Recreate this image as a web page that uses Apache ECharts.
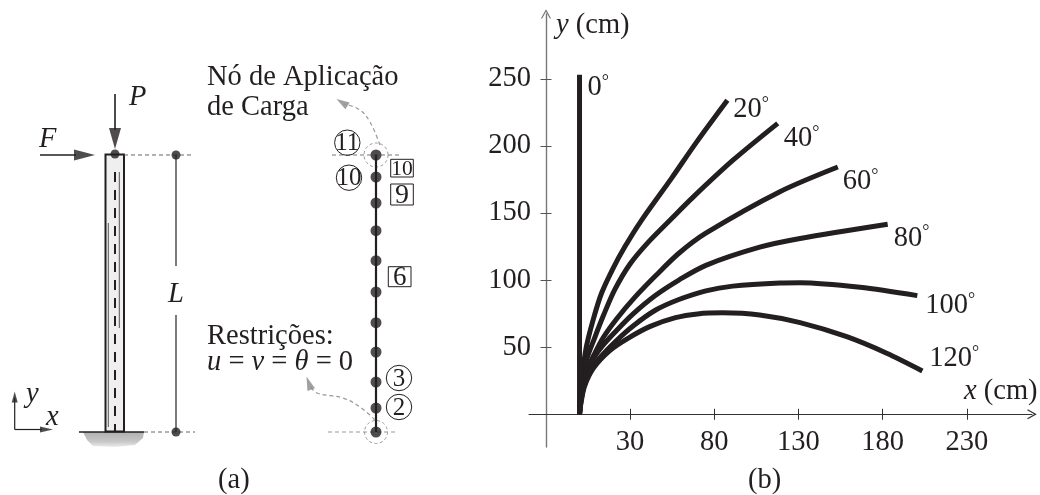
<!DOCTYPE html>
<html><head><meta charset="utf-8">
<style>html,body{margin:0;padding:0;background:#fff}#c{width:1040px;height:495px}</style>
<script src="https://cdn.jsdelivr.net/npm/echarts@6/dist/echarts.min.js"></script>
</head><body><div id="c"></div>
<script>
// ---- panel (b) data: [x cm, y cm] ----
const angle0 = [[0,0],[0,253]];
const angle20 = [[0,0],[0.4,12],[1.5,28],[4,50],[8,70],[13,90],[20,109],[27,125],[36.5,144],[54.7,176],[69.6,203],[87.8,234]];
const angle40 = [[0,0],[0.5,10],[1.8,25],[4,40],[9,57],[14,73],[21,93],[30,112],[41,128.5],[54,145],[67.6,162],[91.3,189.5],[117.7,216.8]];
const angle60 = [[0,0],[0.6,10],[2,22],[4.5,33],[8.5,44],[14,57],[22,71],[32,86],[45,103],[59,120],[75,135],[119,165.9],[153.4,184.3]];
const angle80 = [[0,0],[0.6,9],[2.2,22],[5,33],[9.5,44],[15,53],[22,62.5],[32,75],[45,88.5],[59,100],[75,111],[107,124.5],[131,131],[183,141.6]];
const angle100 = [[0,0],[0.7,8],[2.5,20],[6,31],[12,42],[22,55],[32,66],[45,77.5],[59,85.5],[75,92],[91,95.5],[119,97.8],[131,98],[166.6,94.6],[200.6,88.4]];
const angle120 = [[0,0],[0.8,8],[3,21],[8.3,34.5],[18,47.5],[29,56.8],[42,65.5],[57,72],[70,74.8],[85,75.6],[107,74],[131,68.3],[158.7,57.8],[182.4,45.5],[203.6,32.3]];
const xTicks = [30,80,130,180,230];
const yTicks = [50,100,150,200,250];
const curves = [angle0,angle20,angle40,angle60,angle80,angle100,angle120];
const angleNames = ['0','20','40','60','80','100','120'];
const endOffsets = [[8,13],[6,9],[6,15],[5,15],[6,14],[8,10],[7,-12]];

// ---- panel (a) data: drawing units of the hidden schematic axes ----
const nodeX = 376;
const nodeY = [432,408,382,352,322.7,292,260.7,230.7,203,177,155];
const circled = [['11',347.3,142.7],['10',349,177.7],['3',399,378],['2',399,407]];
const boxed = [['10',390.7,159.3,413.3,177,21.5],['9',390.7,184,413.3,205,28],['6',388.3,266.7,411,286.7,27]];

const serif = '"Liberation Serif","Times New Roman",serif';
const ink = '#231f20';
const FS = 28.5;

const series = [];
curves.forEach((c,i)=>{
  series.push({type:'line',name:angleNames[i],xAxisIndex:0,yAxisIndex:0,data:c,smooth:i?0.3:false,showSymbol:false,silent:true,
    lineStyle:{color:ink,width:5,cap:'butt',join:'round'},
    endLabel:{show:true,formatter:'{a|'+angleNames[i]+'}{d|°}',color:ink,offset:endOffsets[i],
      align:'left',verticalAlign:'middle',distance:0,
      rich:{a:{fontFamily:serif,fontSize:FS,color:ink},d:{fontFamily:serif,fontSize:18,color:ink,verticalAlign:'top',lineHeight:26}}}});
});

function path(pts,color,width,type,smooth){
  series.push({type:'line',xAxisIndex:2,yAxisIndex:2,data:pts,showSymbol:false,silent:true,smooth:smooth||false,z:3,
    lineStyle:{color,width,type:type||'solid',cap:'butt'}});
}
function head(tip,from,len,w,color){
  const dx=tip[0]-from[0],dy=tip[1]-from[1],n=Math.hypot(dx,dy);
  const c=[tip[0]-dx/n*len/2,tip[1]-dy/n*len/2];
  series.push({type:'scatter',xAxisIndex:2,yAxisIndex:2,silent:true,z:4,
    data:[c],symbol:'triangle',symbolSize:[w,len],symbolRotate:Math.atan2(-dx,-dy)*180/Math.PI,itemStyle:{color}});
}
function dots(pts,size){
  series.push({type:'scatter',xAxisIndex:2,yAxisIndex:2,silent:true,z:5,data:pts,symbol:'circle',symbolSize:size,itemStyle:{color:ink}});
}
function rect(x0,y0,x1,y1,fill,stroke,lw,z){
  series.push({type:'custom',xAxisIndex:2,yAxisIndex:2,silent:true,z:z||2,clip:false,data:[[x0,y0,x1,y1]],
    renderItem:(p,api)=>{const a=api.coord([api.value(0),api.value(1)]),b=api.coord([api.value(2),api.value(3)]);
      return {type:'rect',shape:{x:a[0],y:a[1],width:b[0]-a[0],height:b[1]-a[1]},style:{fill,stroke,lineWidth:lw}};}});
}
function ring(x,y,r,stroke,lw,dash,z){
  series.push({type:'custom',xAxisIndex:2,yAxisIndex:2,silent:true,z:z||2,clip:false,data:[[x,y,r]],
    renderItem:(p,api)=>{const a=api.coord([api.value(0),api.value(1)]);
      return {type:'circle',shape:{cx:a[0],cy:a[1],r:api.value(2)},style:{fill:'none',stroke,lineWidth:lw,lineDash:dash||null}};}});
}
function blob(pts,fill,z){
  series.push({type:'custom',xAxisIndex:2,yAxisIndex:2,silent:true,z:z||1,clip:false,data:[[0,0]],
    renderItem:(p,api)=>({type:'polygon',shape:{points:pts.map(q=>api.coord(q))},style:{fill}})});
}

// ground
blob([[83,432],[144,432],[143,438],[135,445],[115,447],[93,446],[87,440]],
  {type:'linear',x:0,y:0,x2:0,y2:1,colorStops:[{offset:0,color:'#b0b0b0'},{offset:0.65,color:'#c8c8c8'},{offset:1,color:'#ececec'}]});
// column
rect(105.5,154.5,124,431.5,'#efefef',ink,2,2);
path([[108.3,223],[108.3,427]],'#555',1);
path([[119.3,172],[119.3,328]],'#555',1);
path([[115,172],[115,432]],ink,2,[10,8]);
path([[79,432],[144,432]],ink,1.6);
dots([[115,154]],9);
// P and F
path([[115,94],[115,130]],ink,1.6); head([115,149],[115,94],21,12,ink);
path([[40,155],[76,155]],ink,1.6); head([95,155],[40,155],21,11,ink);
// L dimension
path([[124,155],[191,155]],'#666',1,[4,3]);
path([[144,432],[195,432]],'#666',1,[4,3]);
path([[176,155],[176,266]],'#444',1.4);
path([[176,315],[176,432]],'#444',1.4);
dots([[176,155],[176,432]],9);
// xy triad
path([[14.7,429.5],[14.7,398]],ink,1.2); head([14.7,391.5],[14.7,429.5],11,6,ink);
path([[14.7,429.5],[42,429.5]],ink,1.2); head([53,429.5],[14.7,429.5],13,6,ink);
// nodal column
path(nodeY.map(y=>[nodeX,y]),ink,2.2);
dots(nodeY.map(y=>[nodeX,y]),11);
// helpers: guide lines
path([[332,155],[400,155]],'#777',1,[4,3]);
path([[328,432],[397,432]],'#999',1,[4,3]);
ring(376,155,12,'#999',1,[3,2.5]);
ring(376,432,11.5,'#999',1,[3,2.5]);
path([[380,145],[370,122],[360,110],[345,104]],'#999',1.2,[4,3],0.4); head([336.5,99],[346,105],13,8,'#888');
path([[375,420],[360,407],[343,398],[317,393],[310,386]],'#999',1.2,[4,3],0.4); head([306.5,376.5],[311,389],14,8,'#888');
// numbered markers
circled.forEach(c=>ring(c[1],c[2],12.7,ink,1,null,6));
boxed.forEach(b=>rect(b[1],b[2],b[3],b[4],'#fff',ink,1,4));

// text
function T(text,x,y,size,extra){
  return {type:'text',x,y,z:20,silent:true,style:Object.assign({text,fill:ink,fontFamily:serif,fontSize:size||FS,align:'left',verticalAlign:'middle'},extra||{})};
}
const rich={i:{fontFamily:serif,fontStyle:'italic',fontSize:FS,fill:ink,color:ink},r:{fontFamily:serif,fontSize:FS,fill:ink,color:ink}};
const graphics=[
  T('Nó de Aplicação',207,78),T('de Carga',207,108),
  T('Restrições:',207,337),
  T('{i|u} {r|=} {i|v} {r|=} {i|θ} {r|=} {r|0}',207,363,FS,{rich}),
  T('(a)',218,481),T('(b)',748,481),
  T('{i|y} {r|(cm)}',556,26,FS,{rich}),
  T('{i|x} {r|(cm)}',964,392,FS,{rich}),
  T('P',129,98,FS,{fontStyle:'italic'}),T('F',39,140,FS,{fontStyle:'italic'}),
  T('L',176,295,FS,{fontStyle:'italic',align:'center'}),
  T('y',26,395,FS,{fontStyle:'italic'}),T('x',46,418,FS,{fontStyle:'italic'})
];
circled.forEach(c=>graphics.push(T(c[0],c[1],c[2]+1,25,{align:'center'})));
boxed.forEach(b=>graphics.push(T(b[0],(b[1]+b[3])/2,(b[2]+b[4])/2+1,b[5],{align:'center'})));

const axisCommon={axisLabel:{show:false},splitLine:{show:false}};
const chevron='path://M5 0L10 9L9 9.6L5 2.6L1 9.6L0 9Z';
const xRange={min:-30,max:268.7,type:'value'};
const yRange={min:-24.4,max:298.3,type:'value'};
const option={
  animation:false,backgroundColor:'#fff',
  grid:[{left:529,top:14,width:503,height:433,containLabel:false},{left:0,top:0,width:1040,height:495}],
  xAxis:[
    Object.assign({},xRange,{gridIndex:0,position:'bottom',splitLine:{show:false},
      axisLine:{show:true,onZero:true,symbol:['none',chevron],symbolSize:[10,11],lineStyle:{color:'#333',width:1}},
      axisTick:{show:true,length:5.5,customValues:xTicks,lineStyle:{color:'#333',width:1}},
      axisLabel:{show:true,customValues:xTicks,margin:-19,fontFamily:serif,fontSize:FS,color:ink,formatter:v=>String(v)}}),
    Object.assign({},xRange,{gridIndex:0,position:'bottom',axisLine:{show:false,onZero:true},
      axisTick:{show:true,inside:true,length:5.5,customValues:xTicks,lineStyle:{color:'#333',width:1}},...axisCommon}),
    {type:'value',gridIndex:1,min:0,max:1040,show:false}
  ],
  yAxis:[
    Object.assign({},yRange,{gridIndex:0,position:'left',offset:-17,splitLine:{show:false},
      axisLine:{show:true,onZero:false,symbol:['none',chevron],symbolSize:[10,11],lineStyle:{color:'#777',width:1.4}},
      axisTick:{show:true,length:5.5,customValues:yTicks,lineStyle:{color:'#555',width:1}},
      axisLabel:{show:true,customValues:yTicks,margin:15,fontFamily:serif,fontSize:FS,color:ink,formatter:v=>String(v)}}),
    Object.assign({},yRange,{gridIndex:0,position:'left',offset:-17,axisLine:{show:false,onZero:false},
      axisTick:{show:true,inside:true,length:5.5,customValues:yTicks,lineStyle:{color:'#555',width:1}},...axisCommon}),
    {type:'value',gridIndex:1,min:0,max:495,inverse:true,show:false}
  ],
  graphic:graphics,
  series
};
echarts.init(document.getElementById('c'),null,{renderer:'canvas'}).setOption(option);
</script></body></html>
